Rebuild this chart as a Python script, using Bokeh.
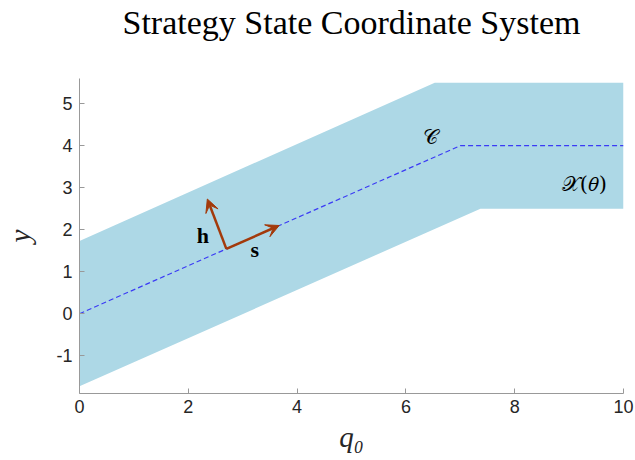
from bokeh.plotting import figure
from bokeh.models import ColumnDataSource, Range1d, Arrow, VeeHead, LabelSet, FixedTicker, LinearAxis
from bokeh.embed import file_html
from bokeh.resources import INLINE
from bokeh.core.properties import value

# feasible band polygon (q0, y)
band_x = [0, 6.53, 10, 10, 7.37, 0]
band_y = [1.73, 5.5, 5.5, 2.5, 2.5, -1.73]
# centre path C
path_x = [0, 7, 10]
path_y = [0, 4, 4]
# basis vectors s and h
arrow_name = ["s", "h"]
arrow_x0 = [2.7, 2.7]
arrow_y0 = [1.543, 1.543]
arrow_x1 = [3.67, 2.35]
arrow_y1 = [2.10, 2.73]
arrow_lbl_x = [3.22, 2.27]
arrow_lbl_y = [1.52, 1.86]
# annotations
note_text = ["\U0001D49E", "\U0001D4B3(\U0001D703)"]
note_x = [6.46, 9.28]
note_y = [4.2, 3.09]
x_ticks = [0, 2, 4, 6, 8, 10]
y_ticks = [-1, 0, 1, 2, 3, 4, 5]
y_tick_labels = ["-1", "0", "1", "2", "3", "4", "5"]
title_text = "Strategy State Coordinate System"

p = figure(width=635, height=460, x_range=Range1d(0, 10), y_range=Range1d(-1.9, 5.6),
           output_backend="svg", toolbar_location=None,
           min_border_left=79, min_border_right=12, min_border_top=78, min_border_bottom=67)
p.grid.visible = False
p.outline_line_color = None
p.background_fill_color = "white"

xa = p.below[0]
ya = p.left[0]

# title drawn as the label of an empty axis above the frame
title_axis = LinearAxis(ticker=FixedTicker(ticks=[]), axis_label=title_text,
                        axis_line_color=None, major_tick_line_color=None,
                        minor_tick_line_color=None, major_tick_in=0, major_tick_out=0,
                        minor_tick_in=0, minor_tick_out=0, major_label_standoff=0,
                        axis_label_standoff=38,
                        axis_label_text_font="Liberation Serif",
                        axis_label_text_font_style="normal",
                        axis_label_text_font_size="34px",
                        axis_label_text_color="black")
p.add_layout(title_axis, "above")

p.patch(band_x, band_y, fill_color="#add8e6", line_color=None)
p.line(path_x, path_y, line_color="#3b3bf5", line_width=1.2, line_dash="5 3")

src = ColumnDataSource(dict(x0=arrow_x0, y0=arrow_y0, x1=arrow_x1, y1=arrow_y1,
                            lx=arrow_lbl_x, ly=arrow_lbl_y, name=arrow_name))
arrow_color = "#a33a0b"
p.add_layout(Arrow(source=src, x_start="x0", y_start="y0", x_end="x1", y_end="y1",
                   line_color=arrow_color, line_width=2.5,
                   end=VeeHead(size=13, fill_color=arrow_color, line_color=arrow_color, line_width=1)))
p.add_layout(LabelSet(source=src, x="lx", y="ly", text="name", text_align="center",
                      text_baseline="middle", text_font=value("Liberation Serif"),
                      text_font_style="bold", text_font_size="22px", text_color="black"))

nsrc = ColumnDataSource(dict(x=note_x, y=note_y, t=note_text))
p.add_layout(LabelSet(source=nsrc, x="x", y="y", text="t", text_align="center",
                      text_baseline="middle", text_font=value("DejaVu Serif"),
                      text_font_size="21px", text_color="black"))

for ax in (xa, ya):
    ax.axis_line_color = "#999999"
    ax.major_tick_line_color = "#999999"
    ax.major_tick_in = 5
    ax.major_tick_out = 0
    ax.minor_tick_line_color = None
    ax.major_label_text_font = "Liberation Sans"
    ax.major_label_text_font_size = "18px"
    ax.major_label_text_color = "#262626"
    ax.axis_label_text_font = "Liberation Serif"
    ax.axis_label_text_font_style = "italic"
    ax.axis_label_text_font_size = "29px"
    ax.axis_label_text_color = "#262626"

xa.ticker = FixedTicker(ticks=x_ticks)
ya.ticker = FixedTicker(ticks=y_ticks)
ya.major_label_overrides = dict(zip(y_ticks, y_tick_labels))
xa.axis_label = "q\u2080"
ya.axis_label = "y"
xa.major_label_standoff = 6
ya.major_label_standoff = 7
xa.axis_label_standoff = 5
ya.axis_label_standoff = 17

open("out.html", "w").write(file_html(p, INLINE))
